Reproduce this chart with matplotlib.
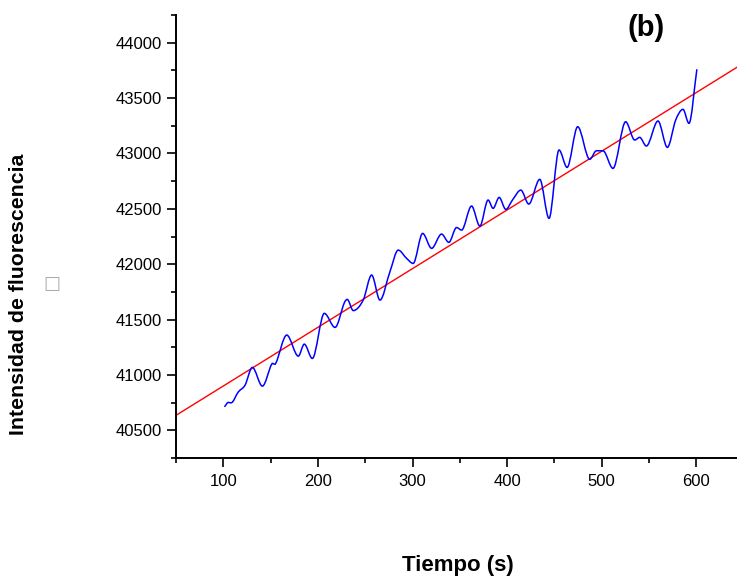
import numpy as np
import matplotlib
matplotlib.use("Agg")
import matplotlib.pyplot as plt
from matplotlib.path import Path
from matplotlib.patches import PathPatch
from matplotlib.ticker import MultipleLocator

plt.rcParams['font.family'] = ['Liberation Sans', 'DejaVu Sans']

# Fluorescence intensity vs. time (spline-connected measurements)
time_s = [101.2, 105.4, 108.2, 115.9, 123.0, 130.7, 141.3, 151.2, 155.4, 167.1,
          179.3, 185.6, 194.1, 206.8, 218.1, 227.9, 231.0, 237.4, 247.9, 256.8,
          265.6, 276.1, 284.9, 293.8, 300.7, 310.7, 320.2, 330.7, 338.4, 346.6,
          351.9, 362.4, 371.2, 379.9, 385.2, 391.6, 398.6, 406.0, 414.5, 422.9,
          434.5, 444.3, 454.9, 463.4, 474.6, 487.3, 494.4, 501.4, 511.9, 525.3,
          534.9, 540.1, 547.2, 559.5, 569.4, 578.2, 585.9, 592.2, 600.6]
intensity = [40712, 40752, 40748, 40847, 40908, 41068, 40899, 41098, 41104, 41360,
             41170, 41278, 41149, 41556, 41429, 41651, 41682, 41581, 41676, 41902,
             41676, 41931, 42127, 42052, 42007, 42278, 42143, 42272, 42197, 42331,
             42308, 42525, 42344, 42579, 42504, 42603, 42495, 42584, 42669, 42543,
             42766, 42414, 43031, 42874, 43241, 42947, 43024, 43024, 42865, 43286,
             43121, 43145, 43067, 43293, 43055, 43302, 43398, 43272, 43760]

# Linear fit line: intercept and slope
fit_intercept = 40370.0
fit_slope = 5.30

x_ticks = [100, 200, 300, 400, 500, 600]
y_ticks = [40500, 41000, 41500, 42000, 42500, 43000, 43500, 44000]
x_limits = (50, 643)
y_limits = (40250, 44250)

fig = plt.figure(figsize=(7.37, 5.78), dpi=100)
ax = fig.add_axes([176 / 737, 1 - 458 / 578, 1 - 176 / 737, (458 - 15) / 578])


def hermite_path(xs, ys):
    """Smooth spline-style connection through the data points (cubic Bezier)."""
    xs = np.asarray(xs, float)
    ys = np.asarray(ys, float)
    n = len(xs)
    m = np.zeros(n)
    for i in range(n):
        if i == 0:
            m[i] = (ys[1] - ys[0]) / (xs[1] - xs[0])
        elif i == n - 1:
            m[i] = (ys[-1] - ys[-2]) / (xs[-1] - xs[-2])
        else:
            d0 = (ys[i] - ys[i - 1]) / (xs[i] - xs[i - 1])
            d1 = (ys[i + 1] - ys[i]) / (xs[i + 1] - xs[i])
            if d0 * d1 <= 0:
                m[i] = 0.0
            else:
                m[i] = (ys[i + 1] - ys[i - 1]) / (xs[i + 1] - xs[i - 1])
    verts = [(xs[0], ys[0])]
    codes = [Path.MOVETO]
    for i in range(n - 1):
        dx = xs[i + 1] - xs[i]
        verts += [(xs[i] + dx / 3, ys[i] + m[i] * dx / 3),
                  (xs[i + 1] - dx / 3, ys[i + 1] - m[i + 1] * dx / 3),
                  (xs[i + 1], ys[i + 1])]
        codes += [Path.CURVE4] * 3
    return Path(verts, codes)


fx = np.array(x_limits, float)
ax.plot(fx, fit_intercept + fit_slope * fx, color='#ff0000', lw=1.0, zorder=2)

ax.add_patch(PathPatch(hermite_path(time_s, intensity), facecolor='none',
                       edgecolor='#0000ff', lw=1.1, zorder=3))

ax.set_xlim(*x_limits)
ax.set_ylim(*y_limits)
ax.set_xticks(x_ticks)
ax.set_yticks(y_ticks)
ax.xaxis.set_minor_locator(MultipleLocator(50))
ax.yaxis.set_minor_locator(MultipleLocator(250))

for side in ('top', 'right'):
    ax.spines[side].set_visible(False)
for side in ('left', 'bottom'):
    ax.spines[side].set_linewidth(1.4)

ax.tick_params(which='major', direction='out', length=6.5, width=1.2,
               labelsize=12, colors='black')
ax.tick_params(which='minor', direction='out', length=3.8, width=1.2)
ax.tick_params(axis='x', which='major', pad=5)
ax.tick_params(axis='y', which='major', pad=3.5)

fig.text(458 / 737, 1 - 565 / 578, 'Tiempo (s)', ha='center', va='center',
         fontsize=16, fontweight='bold')
fig.text(19 / 737, 1 - 294 / 578, 'Intensidad de fluorescencia', ha='center',
         va='center', rotation=90, fontsize=15.3, fontweight='bold')
fig.text(52 / 737, 1 - 284 / 578, '\u25a1', ha='center', va='center',
         fontsize=13, color='#aaaaaa', family=['DejaVu Sans'])
fig.text(646 / 737, 1 - 28 / 578, '(b)', ha='center', va='center',
         fontsize=21, fontweight='bold')

fig.savefig('out.png', dpi=100)
